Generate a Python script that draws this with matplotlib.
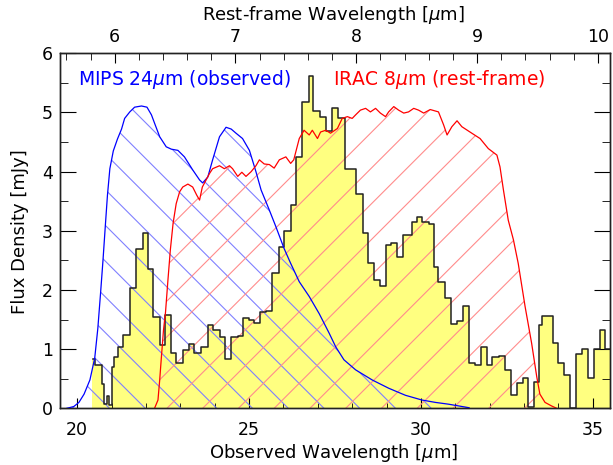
import numpy as np
import matplotlib
matplotlib.use("Agg")
import matplotlib.pyplot as plt
from matplotlib.patches import Polygon
from matplotlib.collections import LineCollection
from matplotlib.ticker import MultipleLocator

# observed spectrum as a histogram: bin edges [micron] and flux [mJy]
spec_edges = [20.42, 20.51, 20.71, 20.79, 20.86, 20.93, 21.00, 21.07, 21.19, 21.34,
              21.53, 21.72, 21.90, 22.06, 22.21, 22.40, 22.54, 22.72, 22.88, 23.07,
              23.25, 23.41, 23.61, 23.80, 23.94, 24.14, 24.30, 24.48, 24.67, 24.83,
              25.01, 25.15, 25.33, 25.50, 25.66, 25.88, 26.02, 26.22, 26.36, 26.55,
              26.73, 26.87, 27.07, 27.25, 27.42, 27.60, 27.79, 27.95, 28.10, 28.30,
              28.46, 28.63, 28.82, 28.97, 29.14, 29.31, 29.47, 29.61, 29.74, 29.89,
              30.03, 30.22, 30.37, 30.51, 30.69, 30.88, 31.05, 31.22, 31.40, 31.58,
              31.74, 31.92, 32.08, 32.27, 32.45, 32.62, 32.79, 32.98, 33.12, 33.30,
              33.44, 33.52, 33.68, 33.85, 33.99, 34.17, 34.33, 34.52, 34.69, 34.86,
              35.03, 35.20, 35.35, 35.50]
spec_flux = [0.84, 0.73, 0.41, 0.08, 0.20, 0.06, 0.70, 0.87, 1.04, 1.24,
             2.03, 2.70, 2.97, 2.35, 1.54, 1.07, 1.58, 0.93, 0.76, 0.98,
             1.09, 0.93, 1.04, 1.41, 1.32, 1.21, 0.84, 1.21, 1.22, 1.52,
             1.49, 1.44, 1.62, 1.65, 2.28, 2.73, 2.99, 3.44, 4.25, 5.17,
             5.62, 5.03, 4.93, 4.69, 5.07, 4.90, 4.05, 4.05, 3.63, 2.96,
             2.45, 2.17, 2.06, 2.76, 2.80, 2.55, 2.93, 2.93, 3.15, 3.24,
             3.15, 3.12, 2.39, 2.14, 1.86, 1.43, 1.48, 1.73, 0.77, 0.73,
             1.03, 0.73, 0.87, 0.88, 0.65, 0.22, 0.42, 0.52, 0.02, 0.45,
             1.41, 1.56, 1.56, 1.11, 0.77, 0.56, 0.00, 0.92, 1.00, 0.52,
             1.00, 1.33, 1.00]

# MIPS 24um filter curve (observed frame), scaled
mips_wave = [19.70, 19.90, 20.05, 20.20, 20.37, 20.51, 20.60, 20.68, 20.75, 20.82,
             20.88, 20.95, 21.05, 21.17, 21.29, 21.38, 21.53, 21.67, 21.87, 22.03,
             22.16, 22.25, 22.40, 22.59, 22.74, 22.93, 23.12, 23.36, 23.56, 23.65,
             23.80, 23.94, 24.14, 24.33, 24.48, 24.62, 24.81, 25.01, 25.20, 25.35,
             25.59, 25.78, 26.02, 26.21, 26.46, 26.75, 27.04, 27.33, 27.52, 27.76,
             28.10, 28.58, 29.06, 29.55, 30.03, 30.42, 30.80, 31.10, 31.40]
mips_resp = [0.00, 0.03, 0.10, 0.24, 0.48, 0.85, 1.35, 1.95, 2.50, 3.10,
             3.60, 4.05, 4.35, 4.55, 4.72, 4.90, 5.01, 5.09, 5.11, 5.09,
             4.96, 4.82, 4.59, 4.42, 4.38, 4.36, 4.25, 4.03, 3.86, 3.81,
             3.91, 4.20, 4.59, 4.75, 4.72, 4.65, 4.56, 4.36, 4.00, 3.69,
             3.35, 3.07, 2.70, 2.45, 2.14, 1.89, 1.60, 1.27, 1.04, 0.82,
             0.65, 0.48, 0.34, 0.22, 0.14, 0.10, 0.07, 0.04, 0.01]

# IRAC 8um filter curve redshifted to the observed frame, scaled
irac_wave = [22.25, 22.35, 22.40, 22.45, 22.51, 22.57, 22.64, 22.71, 22.79, 22.88,
             22.98, 23.07, 23.22, 23.36, 23.48, 23.56, 23.64, 23.75, 23.85, 23.94,
             24.14, 24.28, 24.43, 24.52, 24.67, 24.79, 24.91, 25.06, 25.20, 25.30,
             25.44, 25.59, 25.73, 25.88, 26.07, 26.21, 26.30, 26.46, 26.60, 26.75,
             26.84, 26.99, 27.08, 27.23, 27.37, 27.57, 27.71, 27.86, 28.00, 28.10,
             28.24, 28.39, 28.53, 28.68, 28.82, 28.97, 29.06, 29.21, 29.35, 29.50,
             29.64, 29.79, 29.93, 30.08, 30.27, 30.51, 30.66, 30.76, 30.90, 31.05,
             31.19, 31.48, 31.72, 31.96, 32.21, 32.30, 32.40, 32.54, 32.69, 32.83,
             33.03, 33.22, 33.37, 33.46, 33.61, 33.80, 33.95]
irac_resp = [0.00, 0.14, 0.48, 0.87, 1.32, 1.63, 2.17, 2.68, 3.13, 3.46,
             3.66, 3.74, 3.79, 3.74, 3.60, 3.52, 3.74, 3.86, 3.97, 4.05,
             4.10, 4.05, 4.10, 4.05, 3.92, 3.99, 3.92, 4.00, 4.10, 4.20,
             4.13, 4.12, 4.06, 4.20, 4.25, 4.14, 4.20, 4.56, 4.70, 4.62,
             4.70, 4.56, 4.67, 4.70, 4.65, 4.73, 4.90, 4.93, 4.90, 4.96,
             5.04, 5.07, 5.01, 5.07, 4.99, 4.93, 5.01, 5.10, 5.04, 4.99,
             5.01, 5.07, 5.04, 4.99, 5.05, 5.01, 4.79, 4.62, 4.76, 4.86,
             4.76, 4.65, 4.56, 4.39, 4.28, 4.08, 3.69, 3.18, 2.85, 2.45,
             1.72, 1.10, 0.53, 0.24, 0.10, 0.04, 0.00]

one_plus_z = 3.515
xmin, xmax = 19.5, 35.5
ymin, ymax = 0.0, 6.0


def add_hatch(ax, x, y, color, sign, spacing=1.04, offset=0.0):
    '''Clip a set of 45 degree lines to the area under a filter curve.'''
    verts = np.column_stack([np.r_[x[0], x, x[-1]], np.r_[0.0, y, 0.0]])
    area = Polygon(verts, closed=True, facecolor="none", edgecolor="none")
    ax.add_patch(area)
    bbox = ax.get_window_extent()
    k = (bbox.width / (xmax - xmin)) / (bbox.height / (ymax - ymin))
    segs = []
    for c in np.arange(offset - 20, xmax + 20, spacing):
        if sign > 0:
            segs.append([(c, 0), (c + ymax / k, ymax)])
        else:
            segs.append([(c, 0), (c - ymax / k, ymax)])
    lc = LineCollection(segs, colors=color, linewidths=0.8, zorder=2)
    ax.add_collection(lc, autolim=False)
    lc.set_clip_path(area)


plt.rcParams["font.family"] = "DejaVu Sans"
fig = plt.figure(figsize=(6.13, 4.65), dpi=100)
ax = fig.add_axes([0.0979, 0.1219, 0.8972, 0.7634])
ax.set_xlim(xmin, xmax)
ax.set_ylim(ymin, ymax)
ax.set_autoscale_on(False)

# spectrum
ax.stairs(spec_flux, spec_edges, fill=True, color="#ffff80", lw=0, zorder=1)
e = np.asarray(spec_edges)
f = np.asarray(spec_flux)
ax.plot(np.r_[0.5 * (e[0] + e[1]), e[1:]], np.r_[f, f[-1]],
        drawstyle="steps-post", color="#222222", lw=1.1, zorder=3)

# filter curves with hatching
add_hatch(ax, mips_wave, mips_resp, "#8080ff", -1, offset=21.18)
add_hatch(ax, irac_wave, irac_resp, "#ff8c8c", +1, offset=22.85)
ax.plot(mips_wave, mips_resp, color="#0000ff", lw=0.9, zorder=4)
ax.plot(irac_wave, irac_resp, color="#ff0000", lw=0.9, zorder=4)

ax.text(0.033, 0.925, r"MIPS 24$\mu$m (observed)", color="#0000ff",
        fontsize=13.5, transform=ax.transAxes, va="center")
ax.text(0.497, 0.925, r"IRAC 8$\mu$m (rest-frame)", color="#ff0000",
        fontsize=13.5, transform=ax.transAxes, va="center")

ax.xaxis.set_major_locator(MultipleLocator(5))
ax.xaxis.set_minor_locator(MultipleLocator(1))
ax.yaxis.set_major_locator(MultipleLocator(1))
ax.yaxis.set_minor_locator(MultipleLocator(0.5))
ax.tick_params(which="both", direction="in", top=False, right=True, labelsize=12.5)
ax.tick_params(axis="x", which="major", length=7, pad=9)
ax.tick_params(axis="x", which="minor", length=3.6)
ax.tick_params(axis="y", which="major", length=11.5, pad=5)
ax.tick_params(axis="y", which="minor", length=5.8)

ax.set_xlabel(r"Observed Wavelength [$\mu$m]", fontsize=13, va="center")
ax.xaxis.set_label_coords(0.498, -0.126)
ax.set_ylabel("Flux Density [mJy]", fontsize=13, va="center")
ax.yaxis.set_label_coords(-0.073, 0.497)

# rest-frame axis on top
top = ax.twiny()
top.set_xlim(xmin / one_plus_z, xmax / one_plus_z)
top.xaxis.set_major_locator(MultipleLocator(1))
top.xaxis.set_minor_locator(MultipleLocator(0.2))
top.tick_params(which="both", direction="in", labelsize=12.5)
top.tick_params(which="major", length=7, pad=5)
top.tick_params(which="minor", length=4.8)
top.set_xlabel(r"Rest-frame Wavelength [$\mu$m]", fontsize=13, va="center")
top.xaxis.set_label_coords(0.497, 1.108)

for a in (ax, top):
    for s in a.spines.values():
        s.set_linewidth(1.0)
        s.set_color("#222222")

fig.savefig("out.png", dpi=100)
